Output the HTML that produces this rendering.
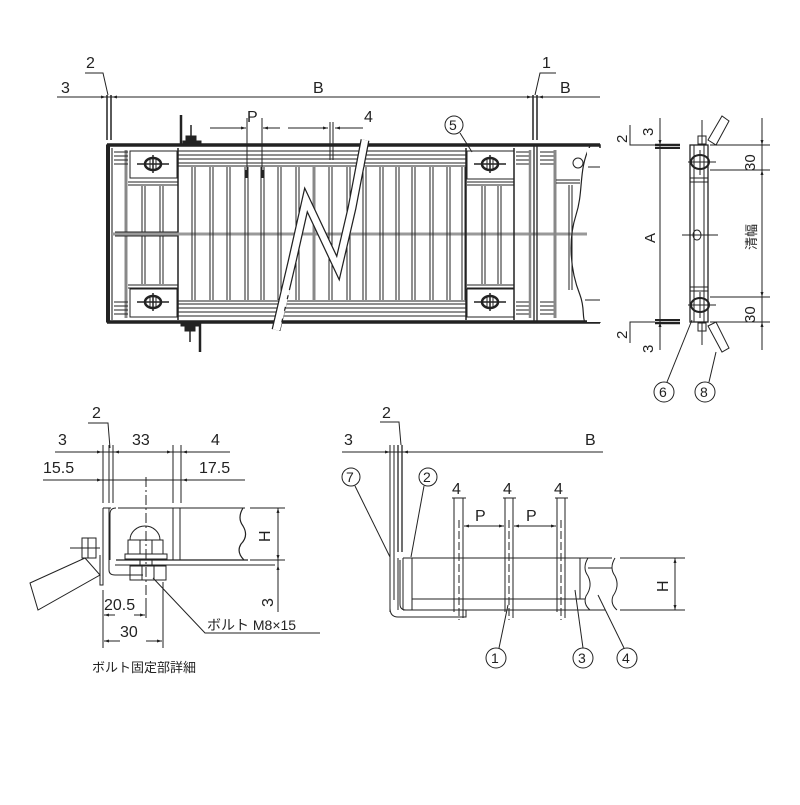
<!DOCTYPE html>
<html><head><meta charset="utf-8"><style>
html,body{margin:0;padding:0;background:#fff}
svg text{font-family:"Liberation Sans","Noto Sans CJK JP",sans-serif;fill:#222}
</style></head><body>
<svg width="800" height="800" viewBox="0 0 800 800" xmlns="http://www.w3.org/2000/svg">
<defs>
<marker id="a" viewBox="0 0 10 10" refX="10" refY="5" markerWidth="7" markerHeight="5" orient="auto-start-reverse"><path d="M0,2 L10,5 L0,8z" fill="#222"/></marker>
<g id="bolt"><ellipse cx="0" cy="0" rx="8" ry="6" fill="none" stroke="#222" stroke-width="2.5"/><line x1="-16" y1="0" x2="16" y2="0" stroke="#222" stroke-width="1.5"/><line x1="0" y1="-9" x2="0" y2="9" stroke="#222" stroke-width="1.5"/><line x1="-3" y1="-5" x2="-3" y2="5" stroke="#222"/><line x1="3" y1="-5" x2="3" y2="5" stroke="#222"/></g>
</defs>
<g stroke="#222" fill="none" stroke-width="1">
<line x1="57" y1="97" x2="600" y2="97"/>
<line x1="107" y1="95" x2="107" y2="140" stroke-width="1.5"/><line x1="111" y1="95" x2="111" y2="140" stroke-width="1.5"/>
<line x1="533" y1="95" x2="533" y2="140" stroke-width="1.5"/><line x1="537" y1="95" x2="537" y2="140" stroke-width="1.5"/>
<line x1="85" y1="97" x2="106" y2="97" marker-end="url(#a)"/><line x1="130" y1="97" x2="112" y2="97" marker-end="url(#a)"/>
<line x1="515" y1="97" x2="532" y2="97" marker-end="url(#a)"/><line x1="555" y1="97" x2="538" y2="97" marker-end="url(#a)"/>
<polyline points="85,73 103,73 108,95"/><polyline points="556,73 540,73 535,95"/>
<line x1="210" y1="128" x2="246" y2="128" marker-end="url(#a)"/><line x1="280" y1="128" x2="263" y2="128" marker-end="url(#a)"/>
<line x1="247" y1="118" x2="247" y2="175"/><line x1="262" y1="118" x2="262" y2="175"/>
<line x1="288" y1="128" x2="328" y2="128" marker-end="url(#a)"/><line x1="363" y1="128" x2="335" y2="128" marker-end="url(#a)"/>
<line x1="330" y1="122" x2="330" y2="160"/><line x1="333" y1="122" x2="333" y2="160"/>
<rect x="107" y="145" width="493" height="177" stroke-width="1.5"/>
<line x1="107" y1="145" x2="600" y2="145" stroke-width="3.5"/>
<line x1="107" y1="322" x2="600" y2="322" stroke-width="3.5"/>
<line x1="108" y1="145" x2="108" y2="322" stroke-width="4"/>
<line x1="112" y1="148" x2="112" y2="320" stroke="#888" stroke-width="2"/>
<line x1="126" y1="150" x2="126" y2="318" stroke="#888" stroke-width="3"/>
<g><line x1="114" y1="152" x2="128" y2="152"/><line x1="114" y1="156" x2="128" y2="156"/><line x1="114" y1="160" x2="128" y2="160"/><line x1="114" y1="164" x2="128" y2="164"/>
<line x1="114" y1="302" x2="128" y2="302"/><line x1="114" y1="306" x2="128" y2="306"/><line x1="114" y1="310" x2="128" y2="310"/><line x1="114" y1="314" x2="128" y2="314"/></g>
<rect x="130" y="151" width="47" height="27"/><rect x="130" y="289" width="47" height="28"/>
<line x1="128" y1="182" x2="178" y2="182"/><line x1="128" y1="185" x2="178" y2="185"/>
<line x1="128" y1="285" x2="178" y2="285"/><line x1="128" y1="288" x2="178" y2="288"/>
<line x1="142" y1="186" x2="142" y2="284"/><line x1="145" y1="186" x2="145" y2="284"/>
<line x1="160" y1="186" x2="160" y2="284"/><line x1="163" y1="186" x2="163" y2="284"/>
<line x1="178" y1="148" x2="178" y2="320" stroke-width="1.5"/>
<g><line x1="178" y1="151" x2="466" y2="151"/><line x1="178" y1="155" x2="466" y2="155"/><line x1="178" y1="159" x2="466" y2="159"/><line x1="178" y1="163" x2="466" y2="163"/><line x1="178" y1="166" x2="466" y2="166"/>
<line x1="178" y1="301" x2="466" y2="301"/><line x1="178" y1="304" x2="466" y2="304"/><line x1="178" y1="308" x2="466" y2="308"/><line x1="178" y1="312" x2="466" y2="312"/><line x1="178" y1="316" x2="466" y2="316"/></g>
<line x1="112" y1="234" x2="600" y2="234" stroke="#999" stroke-width="3"/>
<line x1="115" y1="232" x2="178" y2="232"/><line x1="115" y1="236" x2="178" y2="236"/>
<g>
<line x1="192" y1="167" x2="192" y2="300"/><line x1="195" y1="167" x2="195" y2="300"/>
<line x1="210" y1="167" x2="210" y2="300"/><line x1="213" y1="167" x2="213" y2="300"/>
<line x1="227" y1="167" x2="227" y2="300"/><line x1="230" y1="167" x2="230" y2="300"/>
<line x1="245" y1="167" x2="245" y2="300"/><line x1="248" y1="167" x2="248" y2="300"/>
<line x1="261" y1="167" x2="261" y2="300"/><line x1="264" y1="167" x2="264" y2="300"/>
<line x1="278" y1="167" x2="278" y2="300"/><line x1="281" y1="167" x2="281" y2="300"/>
<line x1="296" y1="167" x2="296" y2="300"/><line x1="299" y1="167" x2="299" y2="300"/>
<line x1="329" y1="167" x2="329" y2="300"/><line x1="332" y1="167" x2="332" y2="300"/>
<line x1="347" y1="167" x2="347" y2="300"/><line x1="350" y1="167" x2="350" y2="300"/>
<line x1="363" y1="167" x2="363" y2="300"/><line x1="366" y1="167" x2="366" y2="300"/>
<line x1="380" y1="167" x2="380" y2="300"/><line x1="383" y1="167" x2="383" y2="300"/>
<line x1="396" y1="167" x2="396" y2="300"/><line x1="399" y1="167" x2="399" y2="300"/>
<line x1="412" y1="167" x2="412" y2="300"/><line x1="415" y1="167" x2="415" y2="300"/>
<line x1="430" y1="167" x2="430" y2="300"/><line x1="433" y1="167" x2="433" y2="300"/>
<line x1="447" y1="167" x2="447" y2="300"/><line x1="450" y1="167" x2="450" y2="300"/>
<line x1="462" y1="167" x2="462" y2="300"/><line x1="465" y1="167" x2="465" y2="300"/>
</g>
<line x1="314" y1="167" x2="314" y2="300" stroke="#888" stroke-width="3"/>
<line x1="247" y1="170" x2="247" y2="178" stroke-width="3"/><line x1="262" y1="170" x2="262" y2="178" stroke-width="3"/>
<!-- Z break -->
<polyline points="276,330 292,262 306,200 338,268 352,208 365,140" stroke="#222" stroke-width="9" stroke-linejoin="miter"/>
<polyline points="276,330 292,262 306,200 338,268 352,208 365,140" stroke="#fff" stroke-width="6.5" stroke-linejoin="miter"/>
<polyline points="279,330 289,290" stroke="#fff" stroke-width="2" stroke-dasharray="8,4"/>
<polyline points="351,214 362,165" stroke="#fff" stroke-width="3" stroke-dasharray="8,4"/>
<line x1="466" y1="148" x2="466" y2="320" stroke-width="1.5"/>
<rect x="467" y="151" width="47" height="28"/><rect x="467" y="289" width="47" height="28"/>
<line x1="467" y1="182" x2="514" y2="182"/><line x1="467" y1="185" x2="514" y2="185"/>
<line x1="467" y1="285" x2="514" y2="285"/><line x1="467" y1="288" x2="514" y2="288"/>
<line x1="482" y1="186" x2="482" y2="284"/><line x1="485" y1="186" x2="485" y2="284"/>
<line x1="498" y1="186" x2="498" y2="284"/><line x1="501" y1="186" x2="501" y2="284"/>
<line x1="514" y1="148" x2="514" y2="320" stroke-width="1.5"/>
<g><line x1="516" y1="152" x2="530" y2="152"/><line x1="516" y1="156" x2="530" y2="156"/><line x1="516" y1="160" x2="530" y2="160"/><line x1="516" y1="164" x2="530" y2="164"/>
<line x1="516" y1="302" x2="530" y2="302"/><line x1="516" y1="306" x2="530" y2="306"/><line x1="516" y1="310" x2="530" y2="310"/><line x1="516" y1="314" x2="530" y2="314"/>
<line x1="540" y1="152" x2="555" y2="152"/><line x1="540" y1="156" x2="555" y2="156"/><line x1="540" y1="160" x2="555" y2="160"/><line x1="540" y1="164" x2="555" y2="164"/>
<line x1="540" y1="302" x2="555" y2="302"/><line x1="540" y1="306" x2="555" y2="306"/><line x1="540" y1="310" x2="555" y2="310"/><line x1="540" y1="314" x2="555" y2="314"/></g>
<line x1="530" y1="150" x2="530" y2="318" stroke="#888" stroke-width="2.5"/>
<line x1="534" y1="146" x2="534" y2="321" stroke-width="1.3"/><line x1="537" y1="146" x2="537" y2="321" stroke-width="1.3"/>
<line x1="555" y1="150" x2="555" y2="318" stroke="#888" stroke-width="3"/>
<line x1="556" y1="180" x2="580" y2="180"/><line x1="556" y1="183" x2="580" y2="183"/>
<line x1="569" y1="185" x2="569" y2="290"/><line x1="572" y1="185" x2="572" y2="290"/>
<path d="M590,146 C578,170 584,190 576,215 C568,240 570,270 580,295 C585,308 582,318 585,322" stroke-width="1.2"/>
<rect x="587" y="148" width="14" height="174" fill="#fff" stroke="none"/>
<line x1="588" y1="167" x2="600" y2="167"/><line x1="585" y1="300" x2="600" y2="300"/>
<ellipse cx="578" cy="163" rx="5" ry="5"/>
<use href="#bolt" x="153" y="164"/><use href="#bolt" x="153" y="302"/>
<use href="#bolt" x="490" y="164"/><use href="#bolt" x="490" y="302"/>
<line x1="181" y1="115" x2="181" y2="145" stroke-width="2.5"/>
<line x1="191" y1="125" x2="191" y2="145" stroke-width="1.5"/>
<path d="M183,141 h18 v4 h-18z M186,136 h10 v5 h-10z" fill="#222"/>
<line x1="200" y1="322" x2="200" y2="352" stroke-width="2.5"/>
<line x1="190" y1="322" x2="190" y2="342" stroke-width="1.5"/>
<path d="M181,322 h18 v4 h-18z M185,326 h10 v5 h-10z" fill="#222"/>
<circle cx="454" cy="125" r="9"/><line x1="460" y1="133" x2="472" y2="152"/>
</g>
<g font-size="16">
<text x="61" y="93">3</text><text x="86" y="68">2</text><text x="313" y="93">B</text>
<text x="542" y="68">1</text><text x="560" y="93">B</text>
<text x="247" y="122">P</text><text x="364" y="122">4</text>
<text x="449" y="130" font-size="14">5</text>
</g>

<g stroke="#222" fill="none" stroke-width="1">
<line x1="660" y1="118" x2="660" y2="350"/>
<line x1="660" y1="137" x2="660" y2="145" marker-end="url(#a)"/><line x1="660" y1="330" x2="660" y2="322" marker-end="url(#a)"/>
<line x1="655" y1="145" x2="680" y2="145" stroke-width="2.5"/><line x1="655" y1="148" x2="680" y2="148" stroke-width="2"/>
<line x1="655" y1="320" x2="680" y2="320" stroke-width="2"/><line x1="655" y1="323" x2="680" y2="323" stroke-width="2.5"/>
<polyline points="630,125 630,145 655,145"/><polyline points="630,343 630,322 655,322"/>
<rect x="690" y="145" width="18" height="177" stroke-width="1.3"/>
<line x1="694" y1="145" x2="694" y2="322"/><line x1="704" y1="145" x2="704" y2="322"/>
<line x1="690" y1="178" x2="708" y2="178"/><line x1="690" y1="182" x2="708" y2="182"/>
<line x1="690" y1="287" x2="708" y2="287"/><line x1="690" y1="291" x2="708" y2="291"/>
<ellipse cx="700" cy="162" rx="9" ry="7" stroke-width="2"/><line x1="688" y1="162" x2="716" y2="162"/><line x1="700" y1="150" x2="700" y2="175"/>
<ellipse cx="700" cy="305" rx="9" ry="7" stroke-width="2"/><line x1="688" y1="305" x2="716" y2="305"/><line x1="700" y1="292" x2="700" y2="318"/>
<line x1="682" y1="235" x2="718" y2="235"/><ellipse cx="697" cy="235" rx="4" ry="5"/>
<rect x="698" y="136" width="8" height="8"/><line x1="702" y1="120" x2="702" y2="145"/>
<polygon points="708,140 722,116 729,121 716,145"/>
<rect x="698" y="323" width="8" height="8"/><line x1="702" y1="322" x2="702" y2="345"/>
<polygon points="708,326 716,322 729,348 722,352"/>
<line x1="762" y1="118" x2="762" y2="350"/>
<line x1="710" y1="145" x2="770" y2="145"/><line x1="710" y1="170" x2="770" y2="170"/>
<line x1="710" y1="297" x2="770" y2="297"/><line x1="710" y1="322" x2="770" y2="322"/>
<line x1="762" y1="135" x2="762" y2="145" marker-end="url(#a)"/><line x1="762" y1="180" x2="762" y2="170" marker-end="url(#a)"/>
<line x1="762" y1="287" x2="762" y2="297" marker-end="url(#a)"/><line x1="762" y1="332" x2="762" y2="322" marker-end="url(#a)"/>
<circle cx="664" cy="392" r="10"/><line x1="667" y1="382" x2="692" y2="320"/>
<circle cx="705" cy="392" r="10"/><line x1="709" y1="382" x2="716" y2="352"/>
</g>
<g font-size="15">
<text transform="translate(655,243) rotate(-90)">A</text>
<text transform="translate(653,136) rotate(-90)">3</text><text transform="translate(627,143) rotate(-90)">2</text>
<text transform="translate(627,339) rotate(-90)">2</text><text transform="translate(653,353) rotate(-90)">3</text>
<text transform="translate(755,171) rotate(-90)">30</text><text transform="translate(755,323) rotate(-90)">30</text>
<text transform="translate(756,250) rotate(-90)" font-size="13">清幅</text>
<text x="659" y="397" font-size="14">6</text><text x="700" y="397" font-size="14">8</text>
</g>

<g stroke="#222" fill="none" stroke-width="1">
<line x1="55" y1="452" x2="230" y2="452"/>
<line x1="90" y1="452" x2="102" y2="452" marker-end="url(#a)"/><line x1="126" y1="452" x2="114" y2="452" marker-end="url(#a)"/>
<line x1="160" y1="452" x2="172" y2="452" marker-end="url(#a)"/><line x1="194" y1="452" x2="182" y2="452" marker-end="url(#a)"/>
<line x1="43" y1="480" x2="245" y2="480"/>
<line x1="92" y1="480" x2="102" y2="480" marker-end="url(#a)"/><line x1="190" y1="480" x2="182" y2="480" marker-end="url(#a)"/>
<line x1="103" y1="445" x2="103" y2="503"/><line x1="109" y1="445" x2="109" y2="503"/><line x1="113" y1="445" x2="113" y2="503"/>
<line x1="173" y1="445" x2="173" y2="503"/><line x1="181" y1="445" x2="181" y2="503"/>
<polyline points="88,423 108,423 110,448"/>
<line x1="146" y1="477" x2="146" y2="605" stroke-dasharray="10,3,2,3"/>
<line x1="103" y1="508" x2="103" y2="585"/><line x1="109" y1="508" x2="109" y2="570"/>
<path d="M103,508 h8 M118,508 h127 M109,570 q0,5 6,5 h28"/>
<path d="M116,508 q-6,0 -6,6 v46"/>
<line x1="116" y1="560" x2="248" y2="560" stroke-width="1.3"/><line x1="115" y1="565" x2="275" y2="565"/>
<line x1="173" y1="508" x2="173" y2="560"/><line x1="180" y1="508" x2="180" y2="560"/>
<path d="M243,508 q-6,10 0,18 q6,10 -2,18 q-5,8 3,16" stroke-width="1.2"/>
<path d="M130,540 a15,14 0 0 1 30,0 z"/>
<rect x="128" y="540" width="35" height="14"/><line x1="140" y1="540" x2="140" y2="554"/><line x1="152" y1="540" x2="152" y2="554"/>
<rect x="125" y="554" width="42" height="5"/>
<rect x="130" y="566" width="36" height="14"/><line x1="142" y1="566" x2="142" y2="580"/><line x1="154" y1="566" x2="154" y2="580"/>
<line x1="140" y1="559" x2="140" y2="566"/><line x1="152" y1="559" x2="152" y2="566"/>
<path d="M103,560 v25 l-3,0 v-30"/>
<rect x="82" y="538" width="14" height="20"/><line x1="70" y1="548" x2="100" y2="548"/><line x1="88" y1="538" x2="88" y2="558"/>
<polygon points="30,583 85,558 100,575 38,610"/>
<line x1="250" y1="508" x2="285" y2="508"/><line x1="250" y1="560" x2="285" y2="560"/>
<line x1="278" y1="508" x2="278" y2="612"/>
<line x1="278" y1="520" x2="278" y2="508" marker-end="url(#a)"/><line x1="278" y1="548" x2="278" y2="560" marker-end="url(#a)"/>
<line x1="278" y1="575" x2="278" y2="565" marker-end="url(#a)"/>
<line x1="103" y1="590" x2="103" y2="648"/><line x1="146" y1="600" x2="146" y2="618"/><line x1="163" y1="582" x2="163" y2="648"/>
<line x1="115" y1="615" x2="104" y2="615" marker-end="url(#a)"/><line x1="134" y1="615" x2="145" y2="615" marker-end="url(#a)"/>
<line x1="120" y1="641" x2="104" y2="641" marker-end="url(#a)"/><line x1="146" y1="641" x2="162" y2="641" marker-end="url(#a)"/>
<polyline points="153,578 205,633 320,633"/>
</g>
<g font-size="16">
<text x="58" y="445">3</text><text x="92" y="418">2</text><text x="132" y="445">33</text><text x="211" y="445">4</text>
<text x="43" y="473">15.5</text><text x="199" y="473">17.5</text>
<text x="104" y="610">20.5</text><text x="120" y="637">30</text>
<text transform="translate(270,542) rotate(-90)">H</text>
<text transform="translate(273,607) rotate(-90)">3</text>
<text x="207" y="630" font-size="14">ボルト M8×15</text>
<text x="92" y="672" font-size="13">ボルト固定部詳細</text>
</g>

<g stroke="#222" fill="none" stroke-width="1">
<line x1="342" y1="452" x2="603" y2="452"/>
<line x1="378" y1="452" x2="390" y2="452" marker-end="url(#a)"/><line x1="415" y1="452" x2="403" y2="452" marker-end="url(#a)"/>
<line x1="390" y1="445" x2="390" y2="612"/><line x1="394" y1="445" x2="394" y2="600"/>
<line x1="398" y1="445" x2="398" y2="552" stroke-width="1.3"/><line x1="402" y1="445" x2="402" y2="552" stroke-width="1.3"/>
<polyline points="380,422 399,422 401,445"/>
<path d="M390,560 v48 q0,9 8,9 h68 v-7 h-60 q-6,0 -6,-6 v-44"/>
<line x1="398" y1="558" x2="398" y2="610"/><line x1="403" y1="558" x2="403" y2="610"/>
<line x1="412" y1="558" x2="412" y2="610"/>
<line x1="403" y1="558" x2="612" y2="558"/><line x1="403" y1="610" x2="605" y2="610"/>
<line x1="412" y1="599" x2="585" y2="599"/>
<line x1="580" y1="558" x2="580" y2="599"/>
<path d="M588,558 q-6,10 0,18 q5,10 -2,20 q-3,8 4,14"/>
<path d="M615,558 q-6,10 0,18 q5,10 -2,20 q-3,8 4,14"/>
<line x1="588" y1="568" x2="612" y2="568"/>
<line x1="620" y1="558" x2="685" y2="558"/><line x1="620" y1="610" x2="685" y2="610"/>
<line x1="675" y1="570" x2="675" y2="558" marker-end="url(#a)"/><line x1="675" y1="598" x2="675" y2="610" marker-end="url(#a)"/>
<line x1="675" y1="568" x2="675" y2="600"/>
<line x1="454" y1="498" x2="454" y2="612"/><line x1="463" y1="498" x2="463" y2="618"/>
<line x1="459" y1="520" x2="459" y2="620" stroke-dasharray="8,3"/>
<line x1="505" y1="498" x2="505" y2="612"/><line x1="513" y1="498" x2="513" y2="618"/>
<line x1="509" y1="520" x2="509" y2="620" stroke-dasharray="8,3"/>
<line x1="557" y1="498" x2="557" y2="612"/><line x1="565" y1="498" x2="565" y2="618"/>
<line x1="561" y1="520" x2="561" y2="620" stroke-dasharray="8,3"/>
<line x1="452" y1="498" x2="466" y2="498"/><line x1="503" y1="498" x2="516" y2="498"/><line x1="555" y1="498" x2="568" y2="498"/>
<line x1="478" y1="526" x2="464" y2="526" marker-end="url(#a)"/><line x1="490" y1="526" x2="504" y2="526" marker-end="url(#a)"/>
<line x1="464" y1="526" x2="504" y2="526"/>
<line x1="530" y1="526" x2="514" y2="526" marker-end="url(#a)"/><line x1="540" y1="526" x2="556" y2="526" marker-end="url(#a)"/>
<line x1="514" y1="526" x2="556" y2="526"/>
<circle cx="351" cy="477" r="9"/><line x1="355" y1="486" x2="390" y2="557"/>
<circle cx="428" cy="477" r="9"/><line x1="424" y1="486" x2="411" y2="557"/>
<circle cx="496" cy="658" r="10"/><line x1="499" y1="648" x2="508" y2="605"/>
<circle cx="583" cy="658" r="10"/><line x1="583" y1="648" x2="575" y2="590"/>
<circle cx="627" cy="658" r="10"/><line x1="624" y1="648" x2="598" y2="595"/>
</g>
<g font-size="16">
<text x="344" y="445">3</text><text x="382" y="418">2</text><text x="585" y="445">B</text>
<text x="346" y="482" font-size="14">7</text><text x="423" y="482" font-size="14">2</text>
<text x="452" y="494">4</text><text x="503" y="494">4</text><text x="554" y="494">4</text>
<text x="475" y="521">P</text><text x="526" y="521">P</text>
<text transform="translate(668,592) rotate(-90)">H</text>
<text x="491" y="663" font-size="14">1</text><text x="578" y="663" font-size="14">3</text><text x="622" y="663" font-size="14">4</text>
</g>
</svg>
</body></html>
